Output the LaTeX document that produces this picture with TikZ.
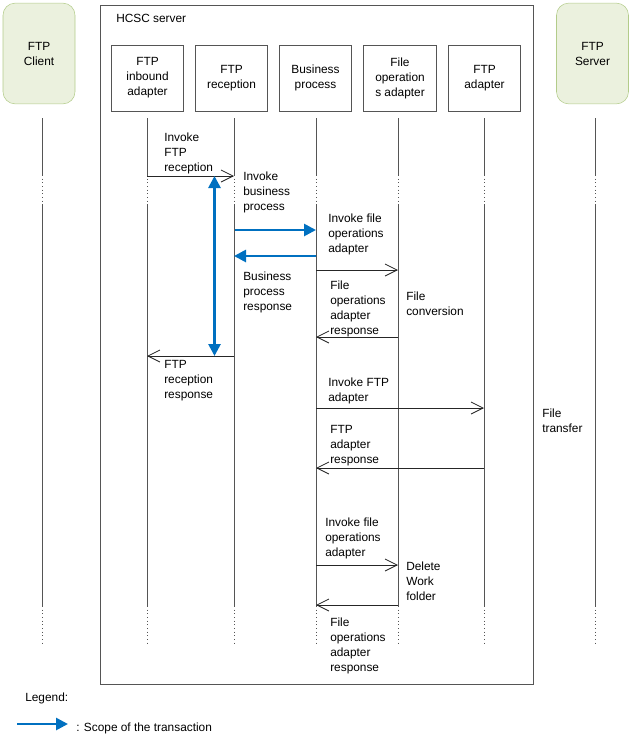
\documentclass[tikz,border=0pt]{standalone}
\usepackage{fontspec}
\setmainfont{Liberation Sans}
\usetikzlibrary{arrows.meta}
\definecolor{tblue}{HTML}{0070C0}
\definecolor{gfill}{HTML}{EBF1DE}
\definecolor{gline}{HTML}{B3CC8A}
\definecolor{lgray}{HTML}{555555}
\begin{document}
\begin{tikzpicture}[x=0.75pt,y=-0.75pt,
  every node/.style={font=\fontsize{8.9}{11.25}\selectfont},
  ext/.style={draw=gline,fill=gfill,rounded corners=9pt,minimum width=54pt,minimum height=75.5pt,inner sep=0pt,align=center},
  comp/.style={draw=lgray,line width=0.75pt,minimum width=54.5pt,minimum height=49.5pt,inner sep=0pt,align=center},
  life/.style={draw=lgray,line width=0.75pt},
  dotl/.style={draw=lgray,line width=0.75pt,dotted},
  msg/.style={draw=black!85,line width=0.75pt,-{Straight Barb[length=9pt,width=9pt,line width=0.6pt]}},
  scope/.style={draw=tblue,line width=2pt,-{Triangle[length=9pt,width=9pt]}},
  lbl/.style={anchor=north west,inner sep=0pt,align=left}]
\useasboundingbox (0,0) rectangle (632,739);
% server frame
\node[draw=lgray,line width=0.75pt,minimum width=324.75pt,minimum height=509.25pt,inner sep=0pt,anchor=north west] (srv) at (100,5) {};
\node[lbl] (srvlbl) at (116,14) {HCSC server};
% external boxes
\node[ext] (cli) at (39,53.5) {FTP\\Client};
\node[ext] (svr) at (592.5,53.5) {FTP\\Server};
% components
\node[comp] (inb) at (147.5,78) {FTP\\inbound\\adapter};
\node[comp] (rec) at (231.5,78) {FTP\\reception};
\node[comp] (bp)  at (315.5,78) {Business\\process};
\node[comp] (fo)  at (400,78) {File\\operation\\s adapter};
\node[comp] (fa)  at (484.5,78) {FTP\\adapter};
% lifeline coordinates
\foreach \n/\x in {cl/42,ib/147,rc/234,bu/316,fp/398,ad/484,sv/595}{
  \coordinate (\n0) at (\x,118);
  \coordinate (\n1) at (\x,175);
  \coordinate (\n2) at (\x,204);
  \coordinate (\n3) at (\x,606);
  \coordinate (\n4) at (\x,644);
  \draw[life] (\n0) -- (\n1);
  \draw[dotl] (\n1) -- (\n2);
  \draw[life] (\n2) -- (\n3);
  \draw[dotl] (\n3) -- (\n4);
}
% messages
\draw[msg] (147,176) coordinate (m1a) -- (234,176) coordinate (m1b);
\node[lbl] (t1) at (164,133) {Invoke\\FTP\\reception};
\node[lbl] (t2) at (243,172) {Invoke\\business\\process};
\draw[scope] (235,230) coordinate (s1a) -- (316,230) coordinate (s1b);
\draw[scope] (316,256) coordinate (s2a) -- (234,256) coordinate (s2b);
\draw[scope,{Triangle[length=9pt,width=9pt]}-{Triangle[length=9pt,width=9pt]}] (214.5,176) coordinate (s3a) -- (214.5,356) coordinate (s3b);
\node[lbl] (t3) at (328,214) {Invoke file\\operations\\adapter};
\draw[msg] (316,270) coordinate (m2a) -- (398,270) coordinate (m2b);
\node[lbl] (t4) at (243,272) {Business\\process\\response};
\node[lbl] (t5) at (330,281) {File\\operations\\adapter\\response};
\node[lbl] (t6) at (406,292) {File\\conversion};
\draw[msg] (398,337) coordinate (m3a) -- (316,337) coordinate (m3b);
\draw[msg] (234,356) coordinate (m4a) -- (147,356) coordinate (m4b);
\node[lbl] (t7) at (164,360) {FTP\\reception\\response};
\node[lbl] (t8) at (328,378) {Invoke FTP\\adapter};
\draw[msg] (316,408) coordinate (m5a) -- (484,408) coordinate (m5b);
\node[lbl] (t9) at (542,409) {File\\transfer};
\node[lbl] (t10) at (330,425) {FTP\\adapter\\response};
\draw[msg] (484,468) coordinate (m6a) -- (316,468) coordinate (m6b);
\node[lbl] (t11) at (325,518) {Invoke file\\operations\\adapter};
\draw[msg] (316,565) coordinate (m7a) -- (398,565) coordinate (m7b);
\node[lbl] (t12) at (406,562) {Delete\\Work\\folder};
\draw[msg] (398,605) coordinate (m8a) -- (316,605) coordinate (m8b);
\node[lbl] (t13) at (330,618) {File\\operations\\adapter\\response};
% legend
\node[lbl] (lg) at (25,693) {Legend:};
\draw[scope] (17,724) coordinate (la) -- (68,724) coordinate (lb);
\node[lbl] (lgt) at (76,723) {: Scope of the transaction};
\end{tikzpicture}
\end{document}
